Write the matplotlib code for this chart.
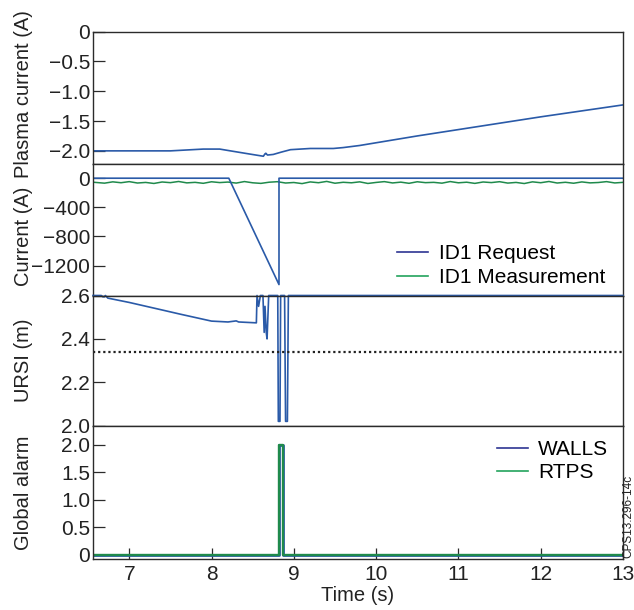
import matplotlib

matplotlib.use("Agg")
import matplotlib.pyplot as plt
from matplotlib.lines import Line2D

plt.rcParams["font.family"] = ["Liberation Sans", "DejaVu Sans"]

BLUE = "#2a5aa8"
BLUE_KEY = "#2e3592"
GREEN = "#1f8a4c"
GREEN_KEY = "#22a35c"
FRAME = "#2b2b2b"
INK = "#222222"

# plasma current (top panel)
ip_t = [6.56, 7.0, 7.5, 7.9, 8.1, 8.23, 8.45, 8.63, 8.65, 8.66, 8.68, 8.75, 8.85,
        8.96, 9.2, 9.48, 9.6, 9.8, 10.5, 11.25, 12.0, 13.0]
ip_val = [-2.00, -2.00, -2.00, -1.97, -1.97, -2.00, -2.05, -2.09, -2.05, -2.04, -2.07,
          -2.06, -2.02, -1.98, -1.96, -1.96, -1.945, -1.91, -1.75, -1.59, -1.43, -1.23]

# ID1 coil current
req_t = [6.56, 8.21, 8.82, 8.82, 13.0]
req_val = [0, 0, -1460, 0, 0]
meas_t = [6.56, 6.7, 6.8, 6.9, 7.0, 7.1, 7.2, 7.3, 7.4, 7.5, 7.6, 7.7, 7.8, 7.9,
          8.0, 8.1, 8.2, 8.3, 8.4, 8.5, 8.6, 8.7, 8.8, 8.9, 9.0, 9.1, 9.2, 9.3,
          9.4, 9.5, 9.6, 9.7, 9.8, 9.9, 10.0, 10.1, 10.2, 10.3, 10.4, 10.5, 10.6,
          10.7, 10.8, 10.9, 11.0, 11.1, 11.2, 11.3, 11.4, 11.5, 11.6, 11.7, 11.8,
          11.9, 12.0, 12.1, 12.2, 12.3, 12.4, 12.5, 12.6, 12.7, 12.8, 12.9, 13.0]
meas_val = [-55, -68, -50, -62, -47, -66, -58, -72, -52, -61, -45, -64, -57, -70,
            -49, -60, -53, -67, -46, -63, -71, -55, -48, -66, -59, -74, -51, -62,
            -44, -69, -56, -63, -50, -72, -58, -47, -65, -54, -70, -49, -61, -57,
            -68, -46, -63, -55, -71, -52, -60, -48, -67, -58, -73, -50, -62, -45,
            -66, -56, -69, -51, -64, -59, -47, -65, -57]

# URSI gap
ursi_t = [6.56, 6.66, 6.68, 6.70, 6.71, 6.74, 7.0, 7.38, 7.62, 8.0, 8.2, 8.3, 8.33,
          8.545, 8.553, 8.572, 8.594, 8.625, 8.64, 8.65, 8.665, 8.675, 8.695, 8.805,
          8.812, 8.832, 8.840, 8.888, 8.900, 8.922, 8.934, 13.0]
ursi_val = [2.600, 2.600, 2.594, 2.594, 2.600, 2.588, 2.568, 2.535, 2.514, 2.482,
            2.478, 2.483, 2.478, 2.474, 2.600, 2.550, 2.600, 2.600, 2.430, 2.550,
            2.430, 2.400, 2.600, 2.600, 2.020, 2.020, 2.600, 2.600, 2.020, 2.020,
            2.600, 2.600]
ursi_limit = 2.34

# global alarm
alarm_t = [6.56, 8.815, 8.815, 8.87, 8.87, 13.0]
walls_val = [0, 0, 2, 2, 0, 0]
rtps_val = [0, 0, 2, 2, 0, 0]

x_ticks = [7, 8, 9, 10, 11, 12, 13]

fig = plt.figure(figsize=(6.34, 6.10), dpi=100)
left, width = 93 / 634, 530 / 634
rects = [(164, 132.5), (295.5, 131.5), (425.7, 130.2), (559, 133.3)]
axes = [fig.add_axes([left, 1 - b / 610, width, h / 610]) for b, h in rects]
ax1, ax2, ax3, ax4 = axes

for ax in axes:
    ax.set_xlim(6.56, 13.0)
    for sp in ax.spines.values():
        sp.set_color(FRAME)
        sp.set_linewidth(1.0)
    ax.tick_params(axis="y", direction="in", length=8.5, width=0.9, color=FRAME,
                   labelsize=15, pad=2, labelcolor=INK)
    ax.tick_params(axis="x", direction="in", length=8, width=0.9, color=FRAME,
                   labelsize=15, pad=4, labelcolor=INK)

for ax in axes[:3]:
    ax.tick_params(axis="x", bottom=False, labelbottom=False)

ax1.plot(ip_t, ip_val, color=BLUE, lw=1.2)
ax1.set_ylim(-2.22, 0)
ax1.set_yticks([0, -0.5, -1.0, -1.5, -2.0])
ax1.set_yticklabels(["0", "\u22120.5", "\u22121.0", "\u22121.5", "\u22122.0"])
ax1.set_ylabel("Plasma current (A)", fontsize=14.5, color=INK)
ax1.yaxis.set_label_coords(-0.113, 0.53)

ax2.plot(meas_t, meas_val, color=GREEN, lw=1.1)
ax2.plot(req_t, req_val, color=BLUE, lw=1.2)
ax2.set_ylim(-1610, 195)
ax2.set_yticks([0, -400, -800, -1200])
ax2.set_yticklabels(["0", "\u2212400", "\u2212800", "\u22121200"])
ax2.set_ylabel("Current (A)", fontsize=14.5, color=INK)
ax2.yaxis.set_label_coords(-0.113, 0.45)
ax2.legend(handles=[Line2D([], [], color=BLUE_KEY, lw=1.2),
                    Line2D([], [], color=GREEN_KEY, lw=1.2)],
           labels=["ID1 Request", "ID1 Measurement"],
           loc="lower right", bbox_to_anchor=(0.982, 0.0), frameon=False,
           fontsize=15, handlelength=1.5, handletextpad=0.5, labelspacing=0.25,
           borderaxespad=0.0)

ax3.plot(ursi_t, ursi_val, color=BLUE, lw=1.2, clip_on=False)
ax3.axhline(ursi_limit, color=INK, lw=1.6, linestyle=(0, (1, 1.3)))
ax3.set_ylim(2.0, 2.6)
ax3.set_yticks([2.0, 2.2, 2.4, 2.6])
ax3.set_yticklabels(["2.0", "2.2", "2.4", "2.6"])
ax3.set_ylabel("URSI (m)", fontsize=14.5, color=INK)
ax3.yaxis.set_label_coords(-0.113, 0.5)

ax4.plot(alarm_t, walls_val, color=BLUE, lw=2.0)
ax4.plot(alarm_t, rtps_val, color=GREEN, lw=1.7)
ax4.set_ylim(-0.078, 2.346)
ax4.set_yticks([0, 0.5, 1.0, 1.5, 2.0])
ax4.set_yticklabels(["0", "0.5", "1.0", "1.5", "2.0"])
ax4.set_xticks(x_ticks)
ax4.set_xticklabels([str(v) for v in x_ticks])
ax4.set_ylabel("Global alarm", fontsize=14.5, color=INK)
ax4.yaxis.set_label_coords(-0.113, 0.5)
ax4.set_xlabel("Time (s)", fontsize=14.5, color=INK, labelpad=2)
ax4.legend(handles=[Line2D([], [], color=BLUE_KEY, lw=1.2),
                    Line2D([], [], color=GREEN_KEY, lw=1.2)],
           labels=["WALLS", "RTPS"],
           loc="upper right", frameon=False, fontsize=15, handlelength=1.5,
           handletextpad=0.5, labelspacing=0.2, borderaxespad=0.3)

fig.text(628.5 / 634, 1 - 516 / 610, "CPS13.296-14c", rotation=90, fontsize=8.5,
         ha="center", va="center", color=INK)

fig.savefig("out.png", dpi=100)
plt.close(fig)
